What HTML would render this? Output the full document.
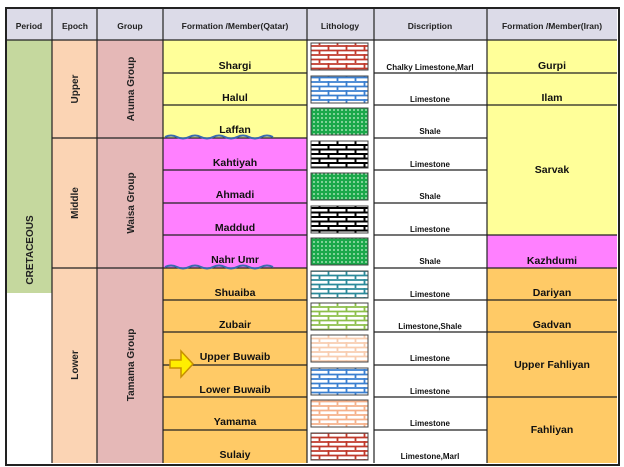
<!DOCTYPE html>
<html><head><style>body{margin:0;background:#fff}svg{display:block}</style></head><body>
<svg width="624" height="467" viewBox="0 0 624 467" xmlns="http://www.w3.org/2000/svg" font-family="Liberation Sans, Arial, sans-serif" font-weight="bold">
<defs>
<pattern id="bR" width="18" height="9" patternUnits="userSpaceOnUse"><rect width="18" height="9" fill="#fff"/><path d="M0 1H18M0 5.5H18M4.5 0V5.5M13.5 5.5V9" stroke="#c0392b" stroke-width="1.8"/></pattern>
<pattern id="bB" width="18" height="9" patternUnits="userSpaceOnUse"><rect width="18" height="9" fill="#fff"/><path d="M0 1H18M0 5.5H18M4.5 0V5.5M13.5 5.5V9" stroke="#3a7fd0" stroke-width="1.8"/></pattern>
<pattern id="bK" width="18" height="9" patternUnits="userSpaceOnUse"><rect width="18" height="9" fill="#fff"/><path d="M0 1H18M0 5.5H18M4.5 0V5.5M13.5 5.5V9" stroke="#000" stroke-width="2"/></pattern>
<pattern id="bT" width="18" height="9" patternUnits="userSpaceOnUse"><rect width="18" height="9" fill="#fff"/><path d="M0 1H18M0 5.5H18M4.5 0V5.5M13.5 5.5V9" stroke="#2b8a9a" stroke-width="1.8"/></pattern>
<pattern id="bG" width="18" height="9" patternUnits="userSpaceOnUse"><rect width="18" height="9" fill="#fff"/><path d="M0 1H18M0 5.5H18M4.5 0V5.5M13.5 5.5V9" stroke="#8cbf4a" stroke-width="1.8"/></pattern>
<pattern id="bP" width="18" height="9" patternUnits="userSpaceOnUse"><rect width="18" height="9" fill="#fff"/><path d="M0 1H18M0 5.5H18M4.5 0V5.5M13.5 5.5V9" stroke="#f8cdb0" stroke-width="1.8"/></pattern>
<pattern id="bO" width="18" height="9" patternUnits="userSpaceOnUse"><rect width="18" height="9" fill="#fff"/><path d="M0 1H18M0 5.5H18M4.5 0V5.5M13.5 5.5V9" stroke="#f5b08a" stroke-width="1.8"/></pattern>
<pattern id="sh" width="4" height="4" patternUnits="userSpaceOnUse"><rect width="4" height="4" fill="#1aa84a"/><circle cx="2" cy="2" r="0.9" fill="#c8f0d0"/></pattern>
</defs>
<rect x="6" y="8" width="613" height="457" fill="#fff" stroke="#222" stroke-width="2"/>
<rect x="7" y="9" width="610" height="31" fill="#dcdbe8"/>
<g font-size="8.5" text-anchor="middle" fill="#222">
<text x="29" y="29">Period</text><text x="75" y="29">Epoch</text><text x="130" y="29">Group</text>
<text x="235" y="29">Formation /Member(Qatar)</text><text x="340" y="29">Lithology</text>
<text x="430" y="29">Discription</text><text x="552" y="29">Formation /Member(Iran)</text>
</g>
<rect x="7" y="40" width="45" height="253" fill="#c5d89e"/>
<rect x="52" y="40" width="45" height="423" fill="#fbd4b4"/>
<rect x="97" y="40" width="66" height="423" fill="#e5b8b7"/>
<rect x="163" y="40" width="144" height="98" fill="#ffff99"/>
<rect x="163" y="138" width="144" height="130" fill="#ff80ff"/>
<rect x="163" y="268" width="144" height="195" fill="#ffca66"/>
<rect x="487" y="40" width="130" height="195" fill="#ffff99"/>
<rect x="487" y="235" width="130" height="33" fill="#ff80ff"/>
<rect x="487" y="268" width="130" height="195" fill="#ffca66"/>
<g stroke="#444" stroke-width="1">
<rect x="311" y="43" width="57" height="27" fill="url(#bR)"/>
<rect x="311" y="76" width="57" height="27" fill="url(#bB)"/>
<rect x="311" y="108" width="57" height="27" fill="url(#sh)"/>
<rect x="311" y="141" width="57" height="27" fill="url(#bK)"/>
<rect x="311" y="173" width="57" height="27" fill="url(#sh)"/>
<rect x="311" y="206" width="57" height="27" fill="url(#bK)"/>
<rect x="311" y="238" width="57" height="27" fill="url(#sh)"/>
<rect x="311" y="271" width="57" height="27" fill="url(#bT)"/>
<rect x="311" y="303" width="57" height="27" fill="url(#bG)"/>
<rect x="311" y="335" width="57" height="27" fill="url(#bP)"/>
<rect x="311" y="368" width="57" height="27" fill="url(#bB)"/>
<rect x="311" y="400" width="57" height="27" fill="url(#bO)"/>
<rect x="311" y="433" width="57" height="27" fill="url(#bR)"/>
</g>
<g stroke="#222" stroke-width="1.2" fill="none">
<path d="M7 40H617"/>
<path d="M52 9V463M97 9V463M163 9V463M307 9V463M374 9V463M487 9V463"/>
<path d="M163 73H307M163 105H307M163 138H307M163 170H307M163 203H307M163 235H307M163 268H307M163 300H307M163 332H307M163 365H307M163 397H307M163 430H307"/>
<path d="M374 73H617M374 105H617M374 138H487M374 170H487M374 203H487M374 235H617M374 268H617M374 300H617M374 332H617M374 365H487M374 397H617M374 430H487"/>
<path d="M52 138H163M52 268H163"/>
</g>
<path d="M165 137q6 -3 12 0t12 0t12 0t12 0t12 0t12 0t12 0t12 0t12 0" stroke="#3a6ab0" stroke-width="2" fill="none"/>
<path d="M165 267q6 -3 12 0t12 0t12 0t12 0t12 0t12 0t12 0t12 0t12 0" stroke="#3a6ab0" stroke-width="2" fill="none"/>
<g font-size="10" text-anchor="middle" fill="#222">
<text transform="translate(33,250) rotate(-90)">CRETACEOUS</text>
<text transform="translate(78,89) rotate(-90)">Upper</text>
<text transform="translate(78,203) rotate(-90)">Middle</text>
<text transform="translate(78,365) rotate(-90)">Lower</text>
<text transform="translate(134,89) rotate(-90)">Aruma Group</text>
<text transform="translate(134,203) rotate(-90)">Waisa Group</text>
<text transform="translate(134,365) rotate(-90)">Tamama Group</text>
</g>
<g font-size="10.5" text-anchor="middle" fill="#111">
<text x="235" y="69">Shargi</text><text x="235" y="101">Halul</text><text x="235" y="133">Laffan</text>
<text x="235" y="166">Kahtiyah</text><text x="235" y="198">Ahmadi</text><text x="235" y="231">Maddud</text>
<text x="235" y="263">Nahr Umr</text><text x="235" y="296">Shuaiba</text><text x="235" y="328">Zubair</text>
<text x="235" y="360">Upper Buwaib</text><text x="235" y="393">Lower Buwaib</text><text x="235" y="425">Yamama</text>
<text x="235" y="458">Sulaiy</text>
</g>
<g font-size="8" text-anchor="middle" fill="#111">
<text x="430" y="70">Chalky Limestone,Marl</text><text x="430" y="102">Limestone</text><text x="430" y="134">Shale</text>
<text x="430" y="167">Limestone</text><text x="430" y="199">Shale</text><text x="430" y="232">Limestone</text>
<text x="430" y="264">Shale</text><text x="430" y="297">Limestone</text><text x="430" y="329">Limestone,Shale</text>
<text x="430" y="361">Limestone</text><text x="430" y="394">Limestone</text><text x="430" y="426">Limestone</text>
<text x="430" y="459">Limestone,Marl</text>
</g>
<g font-size="10.5" text-anchor="middle" fill="#111">
<text x="552" y="69">Gurpi</text><text x="552" y="101">Ilam</text><text x="552" y="173">Sarvak</text>
<text x="552" y="264">Kazhdumi</text><text x="552" y="296">Dariyan</text><text x="552" y="328">Gadvan</text>
<text x="552" y="368">Upper Fahliyan</text><text x="552" y="433">Fahliyan</text>
</g>
<path d="M170 360H181V351L193 364L181 377V368H170Z" fill="#ffee00" stroke="#c89000" stroke-width="1.5"/>
</svg>
</body></html>
